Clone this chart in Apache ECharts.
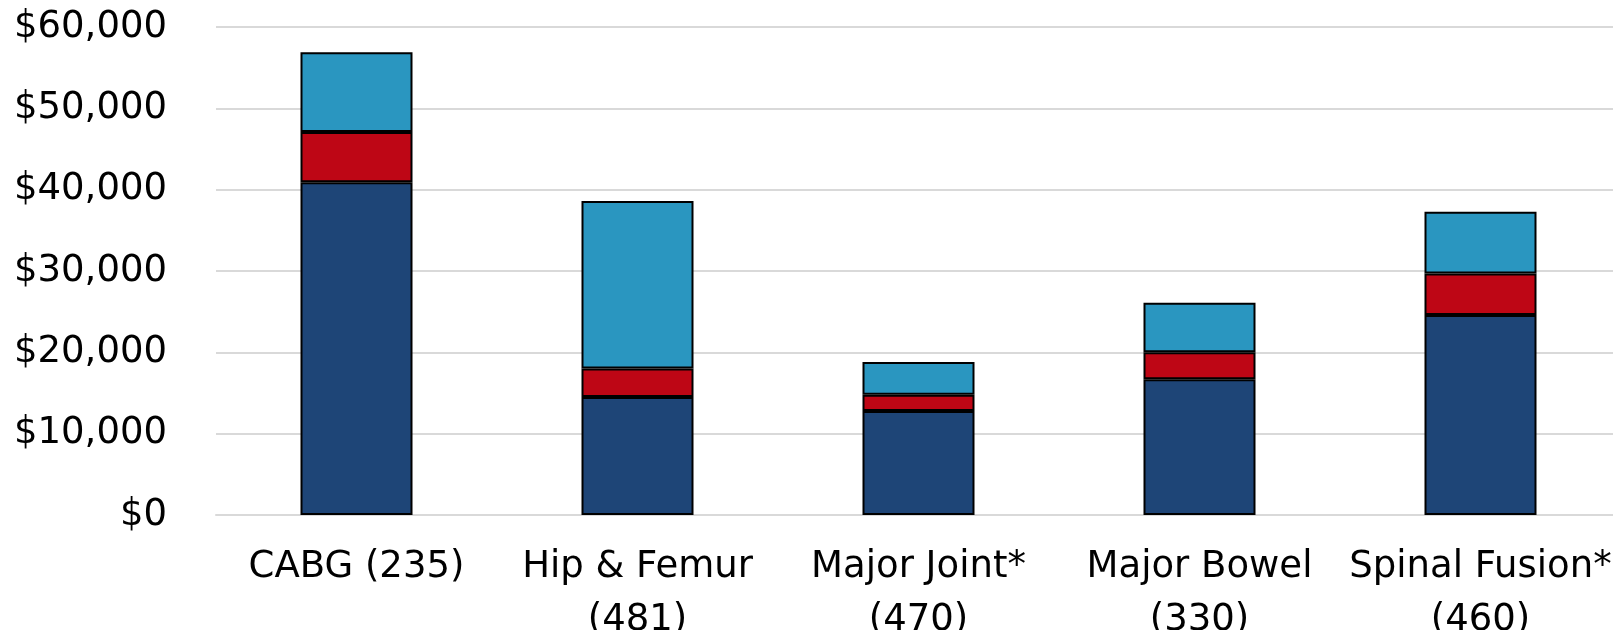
<!DOCTYPE html>
<html>
<head>
<meta charset="utf-8">
<script src="https://cdn.jsdelivr.net/npm/echarts@6/dist/echarts.min.js"></script>
<style>
  html, body { margin: 0; padding: 0; background: #ffffff; }
  #chart { width: 1613px; height: 630px; }
</style>
</head>
<body>
<div id="chart"></div>
<script>
// Procedure groups (case counts in parentheses)
const categories = [
  'CABG (235)',
  'Hip & Femur\n(481)',
  'Major Joint*\n(470)',
  'Major Bowel\n(330)',
  'Spinal Fusion*\n(460)'
];

// Stacked cost components, bottom to top
const baseCost   = [40900, 14500, 12800, 16700, 24600];
const middleCost = [6200, 3500, 2000, 3300, 5100];
const topCost    = [9800, 20600, 4000, 6100, 7600];

// Y axis range and step
const yMin = 0;
const yMax = 60000;
const yStep = 10000;

const FONT = '"DejaVu Sans", Verdana, sans-serif';

const chart = echarts.init(document.getElementById('chart'), null, { renderer: 'canvas' });

function barSeries(name, data, color) {
  return {
    name: name,
    type: 'bar',
    stack: 'cost',
    data: data,
    barWidth: 112,
    itemStyle: { color: color, borderColor: '#000000', borderWidth: 2 },
    emphasis: { disabled: true }
  };
}

chart.setOption({
  animation: false,
  backgroundColor: '#ffffff',
  grid: { left: 216, top: 27, width: 1405, height: 488, outerBoundsMode: 'none', containLabel: false },
  xAxis: {
    type: 'category',
    data: categories,
    axisLine: { show: true, lineStyle: { color: '#d9d9d9', width: 2 } },
    axisTick: { show: false },
    axisLabel: {
      interval: 0,
      margin: 26,
      color: '#000000',
      fontFamily: FONT,
      fontSize: 37,
      lineHeight: 53
    }
  },
  yAxis: {
    type: 'value',
    min: yMin,
    max: yMax,
    interval: yStep,
    axisLine: { show: false },
    axisTick: { show: false },
    splitLine: { lineStyle: { color: '#d9d9d9', width: 2 } },
    axisLabel: {
      margin: 49,
      color: '#000000',
      fontFamily: FONT,
      fontSize: 37,
      formatter: function (v) { return '$' + v.toLocaleString('en-US'); }
    }
  },
  series: [
    barSeries('Base', baseCost, '#1E4577'),
    barSeries('Middle', middleCost, '#BE0615'),
    barSeries('Top', topCost, '#2A96C0')
  ]
});
</script>
</body>
</html>
